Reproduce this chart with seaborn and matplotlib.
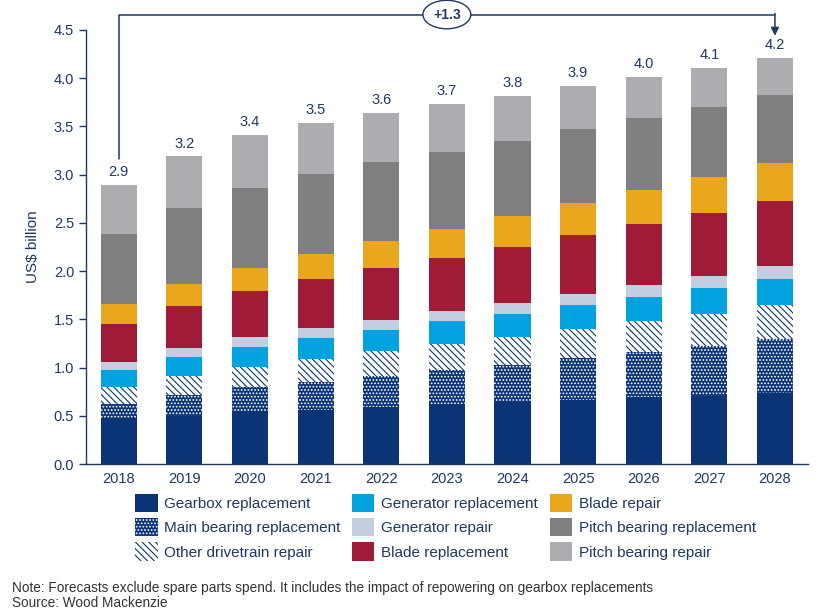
import numpy as np
import matplotlib
matplotlib.use('Agg')
import matplotlib.pyplot as plt
from matplotlib.patches import Patch
import seaborn as sns

# Data (US$ billion per component, stacked bottom to top)
years = ['2018', '2019', '2020', '2021', '2022', '2023', '2024', '2025', '2026', '2027', '2028']
gearbox_repl = [0.47, 0.50, 0.54, 0.56, 0.59, 0.62, 0.64, 0.66, 0.69, 0.71, 0.74]
main_bearing_repl = [0.15, 0.22, 0.26, 0.29, 0.32, 0.35, 0.39, 0.44, 0.47, 0.51, 0.56]
other_drivetrain = [0.18, 0.19, 0.21, 0.24, 0.26, 0.27, 0.29, 0.30, 0.32, 0.34, 0.35]
generator_repl = [0.175, 0.20, 0.20, 0.22, 0.22, 0.24, 0.24, 0.25, 0.25, 0.27, 0.27]
generator_repair = [0.085, 0.09, 0.11, 0.10, 0.10, 0.11, 0.11, 0.11, 0.13, 0.12, 0.13]
blade_repl = [0.39, 0.44, 0.47, 0.51, 0.54, 0.55, 0.58, 0.61, 0.63, 0.65, 0.68]
blade_repair = [0.21, 0.23, 0.24, 0.26, 0.28, 0.30, 0.32, 0.34, 0.35, 0.38, 0.39]
pitch_bearing_repl = [0.73, 0.78, 0.83, 0.83, 0.82, 0.80, 0.78, 0.76, 0.75, 0.72, 0.71]
pitch_bearing_repair = [0.50, 0.54, 0.55, 0.53, 0.51, 0.49, 0.47, 0.45, 0.42, 0.41, 0.38]
total_labels = ['2.9', '3.2', '3.4', '3.5', '3.6', '3.7', '3.8', '3.9', '4.0', '4.1', '4.2']
change_label = '+1.3'

NAVY = '#0a3476'
TXT = '#1f3864'

# name, values, face, hatch, hatch colour
series = [
    ('Gearbox replacement', gearbox_repl, NAVY, None, NAVY),
    ('Main bearing replacement', main_bearing_repl, NAVY, '.....', 'white'),
    ('Other drivetrain repair', other_drivetrain, 'white', '\\\\\\\\\\', NAVY),
    ('Generator replacement', generator_repl, '#00a3e0', None, '#00a3e0'),
    ('Generator repair', generator_repair, '#c3cee1', None, '#c3cee1'),
    ('Blade replacement', blade_repl, '#9f1b38', None, '#9f1b38'),
    ('Blade repair', blade_repair, '#eaa61c', None, '#eaa61c'),
    ('Pitch bearing replacement', pitch_bearing_repl, '#7f7f7f', None, '#7f7f7f'),
    ('Pitch bearing repair', pitch_bearing_repair, '#acadb1', None, '#acadb1'),
]

sns.set_style('white')
plt.rcParams['font.family'] = ['Liberation Sans', 'DejaVu Sans']
plt.rcParams['hatch.linewidth'] = 0.8

fig = plt.figure(figsize=(8.31, 6.12), dpi=100)
ax = fig.add_axes([0.1035, 0.2418, 0.8685, 0.7092])

# stacked bars: draw cumulative totals from the top layer down
cum = np.cumsum(np.array([s[1] for s in series]), axis=0)
for i in range(len(series) - 1, -1, -1):
    name, vals, face, hatch, hc = series[i]
    sns.barplot(x=years, y=cum[i], color=face, saturation=1, width=0.55,
                errorbar=None, hatch=hatch, edgecolor=hc, linewidth=0, ax=ax)

totals = cum[-1]
for i, lab in enumerate(total_labels):
    ax.text(i, totals[i] + 0.06, lab, ha='center', va='bottom', fontsize=10.5, color=TXT)

# +1.3 bracket
ax.plot([0, 0, 10], [3.16, 4.66, 4.66], color=TXT, lw=1.1, clip_on=False)
ax.annotate('', xy=(10, 4.44), xytext=(10, 4.67),
            arrowprops=dict(arrowstyle='-|>', color=TXT, lw=1.1, mutation_scale=12,
                            shrinkA=0, shrinkB=0), annotation_clip=False)
ax.text(5, 4.66, change_label, ha='center', va='center', fontsize=10, fontweight='bold',
        color=TXT, bbox=dict(boxstyle='ellipse,pad=0.22', fc='white', ec=TXT, lw=1.0),
        clip_on=False)

ax.set_ylim(0, 4.5)
ax.set_xlim(-0.5, 10.5)
ax.set_yticks(np.arange(0, 4.51, 0.5))
ax.set_yticklabels([f'{v:.1f}' for v in np.arange(0, 4.51, 0.5)])
ax.set_ylabel('US$ billion', fontsize=11, color=TXT, labelpad=10)
ax.set_xlabel('')
ax.set_xticks(np.arange(-0.5, 10.6, 1), minor=True)
ax.tick_params(axis='x', which='major', length=0, labelsize=10.5, labelcolor=TXT, pad=6)
ax.tick_params(axis='x', which='minor', length=5, color=TXT, direction='out', width=1)
ax.tick_params(axis='y', length=5, color=TXT, direction='out', labelsize=10.5,
               labelcolor=TXT, width=1, left=True)
for side in ['top', 'right']:
    ax.spines[side].set_visible(False)
for side in ['left', 'bottom']:
    ax.spines[side].set_color(TXT)
    ax.spines[side].set_linewidth(1)

handles = []
for name, vals, face, hatch, hc in series:
    handles.append(Patch(facecolor=face, hatch=hatch, edgecolor=hc, linewidth=0, label=name))
fig.legend(handles=handles, ncol=3, loc='upper left', bbox_to_anchor=(0.163, 0.193),
           frameon=False, fontsize=11, handlelength=1.45, handleheight=1.45,
           handletextpad=0.45, columnspacing=0.75, labelspacing=0.4,
           borderpad=0, borderaxespad=0, labelcolor=TXT)

fig.text(0.014, 1 - 588 / 612, 'Note: Forecasts exclude spare parts spend. It includes the impact '
         'of repowering on gearbox replacements', fontsize=9.8, color='#333333', va='center')
fig.text(0.014, 1 - 603 / 612, 'Source: Wood Mackenzie', fontsize=9.8, color='#333333', va='center')

fig.savefig('out.png', dpi=100)
